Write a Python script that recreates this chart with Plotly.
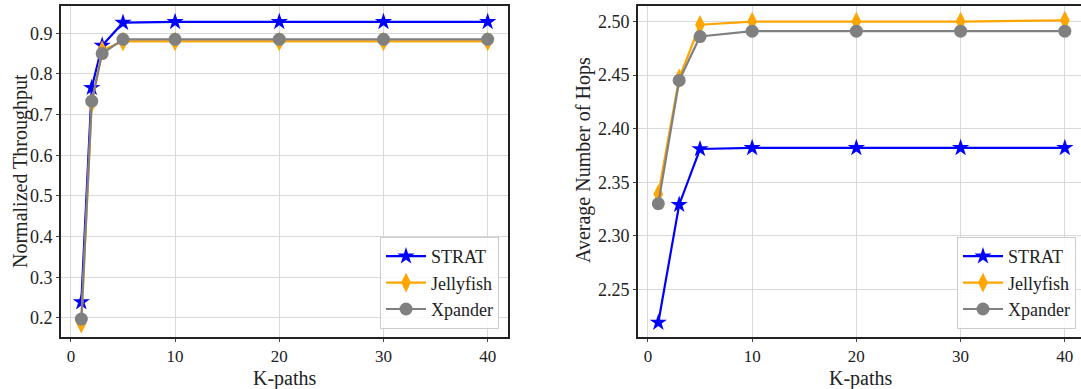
import plotly.graph_objects as go

# ---- data ----
k_left = [1, 2, 3, 5, 10, 20, 30, 40]
thr_strat = [0.239, 0.766, 0.870, 0.926, 0.928, 0.928, 0.928, 0.928]
thr_jelly = [0.186, 0.728, 0.858, 0.880, 0.880, 0.880, 0.880, 0.880]
thr_xpander = [0.197, 0.733, 0.850, 0.885, 0.885, 0.885, 0.885, 0.885]

k_right = [1, 3, 5, 10, 20, 30, 40]
hops_strat = [2.219, 2.329, 2.381, 2.382, 2.382, 2.382, 2.382]
hops_jelly = [2.339, 2.447, 2.497, 2.500, 2.500, 2.500, 2.501]
hops_xpander = [2.330, 2.445, 2.486, 2.491, 2.491, 2.491, 2.491]

names = ["STRAT", "Jellyfish", "Xpander"]
colors = ["#0000ff", "#ffa500", "#808080"]
symbols = ["star", "diamond-tall", "circle"]
sizes = [13, 14, 13]

x_ticks = [0, 10, 20, 30, 40]
left_yticks = [0.2, 0.3, 0.4, 0.5, 0.6, 0.7, 0.8, 0.9]
left_yticklabels = ["0.2", "0.3", "0.4", "0.5", "0.6", "0.7", "0.8", "0.9"]
right_yticks = [2.25, 2.30, 2.35, 2.40, 2.45, 2.50]
right_yticklabels = ["2.25", "2.30", "2.35", "2.40", "2.45", "2.50"]

FONT = "Liberation Serif, Times New Roman, serif"
fig = go.Figure()

left_series = [thr_strat, thr_jelly, thr_xpander]
right_series = [hops_strat, hops_jelly, hops_xpander]

for i in range(3):
    fig.add_trace(go.Scatter(
        x=k_left, y=left_series[i], name=names[i], mode="lines+markers",
        line=dict(color=colors[i], width=2.2),
        marker=dict(symbol=symbols[i], size=sizes[i], color=colors[i], line=dict(width=0)),
        xaxis="x", yaxis="y", legend="legend"))
for i in range(3):
    fig.add_trace(go.Scatter(
        x=k_right, y=right_series[i], name=names[i], mode="lines+markers",
        line=dict(color=colors[i], width=2.2),
        marker=dict(symbol=symbols[i], size=sizes[i], color=colors[i], line=dict(width=0)),
        xaxis="x2", yaxis="y2", legend="legend2"))


def axis_common(size):
    return dict(
        showgrid=True, gridcolor="#d9d9d9", gridwidth=1,
        zeroline=False, showline=True, linecolor="#222222", linewidth=1.6,
        ticks="outside", ticklen=3, tickcolor="#444444", tickwidth=1,
        tickfont=dict(family=FONT, size=size, color="#222222"),
    )


fig.update_layout(
    width=1081, height=389,
    margin=dict(l=0, r=0, t=0, b=0),
    paper_bgcolor="white", plot_bgcolor="white",
    font=dict(family=FONT, color="#222222"),
    xaxis=dict(domain=[61 / 1081, 508 / 1081], range=[-0.95, 41.95],
               tickvals=x_ticks, mirror=True, anchor="y", **axis_common(17)),
    yaxis=dict(domain=[52 / 389, 383 / 389], range=[0.153, 0.967],
               tickvals=left_yticks, ticktext=left_yticklabels,
               mirror=True, anchor="x", **axis_common(18)),
    xaxis2=dict(domain=[638 / 1081, 1.0], range=[-0.95, 41.55],
                tickvals=x_ticks, mirror=True, anchor="y2", **axis_common(17)),
    yaxis2=dict(domain=[52 / 389, 383 / 389], range=[2.2055, 2.5145],
                tickvals=right_yticks, ticktext=right_yticklabels,
                mirror=False, anchor="x2", **axis_common(18)),
    legend=dict(x=499 / 1081, y=(389 - 329) / 389, xanchor="right", yanchor="bottom",
                bgcolor="rgba(255,255,255,0.85)", bordercolor="#cccccc", borderwidth=1,
                itemwidth=40,
                font=dict(family=FONT, size=18, color="#222222"), tracegroupgap=0),
    legend2=dict(x=1076 / 1081, y=(389 - 329) / 389, xanchor="right", yanchor="bottom",
                 bgcolor="rgba(255,255,255,0.85)", bordercolor="#cccccc", borderwidth=1,
                 itemwidth=40,
                 font=dict(family=FONT, size=18, color="#222222"), tracegroupgap=0),
    showlegend=True,
)

title_font = dict(family=FONT, size=20, color="#222222")
fig.add_annotation(text="K-paths", x=284.5 / 1081, y=(389 - 378) / 389, xref="paper", yref="paper",
                   showarrow=False, font=title_font, xanchor="center", yanchor="middle")
fig.add_annotation(text="K-paths", x=861 / 1081, y=(389 - 378) / 389, xref="paper", yref="paper",
                   showarrow=False, font=title_font, xanchor="center", yanchor="middle")
fig.add_annotation(text="Normalized Throughput", x=20 / 1081, y=(389 - 171) / 389, xref="paper", yref="paper",
                   showarrow=False, font=title_font, textangle=-90, xanchor="center", yanchor="middle")
fig.add_annotation(text="Average Number of Hops", x=584 / 1081, y=(389 - 160) / 389, xref="paper", yref="paper",
                   showarrow=False, font=title_font, textangle=-90, xanchor="center", yanchor="middle")

fig.write_html("out.html")
